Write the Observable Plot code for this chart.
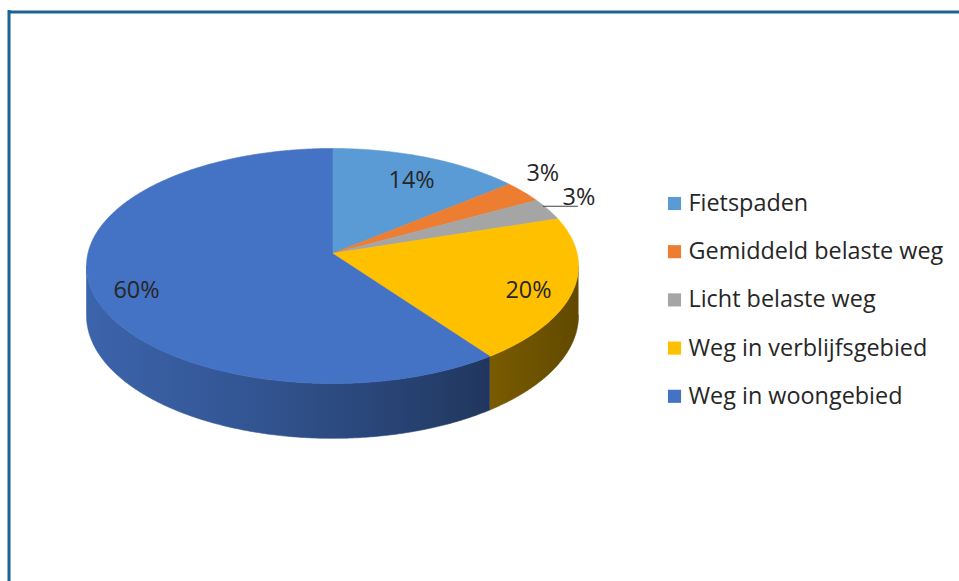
<!DOCTYPE html>
<html><head><meta charset="utf-8">
<script src="https://cdn.jsdelivr.net/npm/d3@7"></script>
<script src="https://cdn.jsdelivr.net/npm/@observablehq/plot@0.6"></script>
<style>html,body{margin:0;padding:0;background:#fff;overflow:hidden}</style>
</head><body><div id="chart"></div>
<script>
// ---- data ----
const categories = ["Fietspaden","Gemiddeld belaste weg","Licht belaste weg","Weg in verblijfsgebied","Weg in woongebied"];
const shares = [14, 3, 3, 20, 60];
const labelTexts = ["14%","3%","3%","20%","60%"];
const labelPlacement = ["inside","outside","leader","inside","inside"];
// ---- style ----
const palette = ["#5B9BD5","#ED7D31","#A5A5A5","#FFC000","#4472C4"];
const FONT = "'Open Sans', Lato, sans-serif";
const TEXT = "#262626";
const FS = 23.4;

// ---- layout (perspective projection of a tilted disc) ----
const W = 959, H = 581;
const CX = 332, CY = 253, RX = 244.6, B = 89.26, K = -0.1064, DEPTH = 49;
function proj(theta, r = 1, drop = 0) {
  const X = r * Math.sin(theta), Z = -r * Math.cos(theta);
  const w = 1 + K * Z;
  return [CX + RX * X / w, (CY + B * Z + drop) / w];
}
const arcs = d3.pie().sort(null).startAngle(0).endAngle(2 * Math.PI)(shares);
const STEP = Math.PI / 360;
function arcPts(a0, a1, drop) {
  const n = Math.max(2, Math.ceil(Math.abs(a1 - a0) / STEP));
  return d3.range(n + 1).map(k => proj(a0 + (a1 - a0) * k / n, 1, drop));
}
// top faces
const topRows = [];
arcs.forEach((a, i) => {
  const pts = [proj(0, 0), ...arcPts(a.startAngle, a.endAngle, 0), proj(0, 0)];
  pts.forEach(([x, y]) => topRows.push({name: categories[i], x, y}));
});
// visible side walls
const thR = Math.acos(K), thL = 2 * Math.PI - thR;
const sides = [];
arcs.forEach((a, i) => {
  const s = Math.max(a.startAngle, thR), e = Math.min(a.endAngle, thL);
  if (s < e) {
    const pts = [...arcPts(s, e, 0), ...arcPts(e, s, DEPTH)];
    sides.push({i, rows: pts.map(([x, y]) => ({name: categories[i], x, y}))});
  }
});
// labels
const labelRows = [], leaderRows = [];
arcs.forEach((a, i) => {
  const mid = (a.startAngle + a.endAngle) / 2;
  const p = labelPlacement[i];
  if (p === "inside") {
    const [x, y] = proj(mid, 0.82);
    labelRows.push({x, y: y + 7, text: labelTexts[i], anchor: "middle"});
  } else if (p === "outside") {
    const [x, y] = proj(mid, 1.12);
    labelRows.push({x: x - 2, y: y - 11, text: labelTexts[i], anchor: "middle"});
  } else {
    const [x, y] = proj(mid, 1);
    const y0 = y - 3;
    leaderRows.push({x1: x - 5, y1: y0, x2: x + 30, y2: y0});
    labelRows.push({x: x + 31, y: y0 - 9, text: labelTexts[i], anchor: "start"});
  }
});
// legend
const legendRows = categories.map((c, i) => ({name: c, x: 674, y: 203 + i * 48.2}));

const plot = Plot.plot({
  width: W, height: H, margin: 0,
  x: {domain: [0, W], range: [0, W], axis: null},
  y: {domain: [0, H], range: [0, H], axis: null},
  color: {domain: categories, range: palette},
  style: {fontFamily: FONT, background: "white"},
  marks: [
    Plot.ruleY([11.5], {x1: 8.5, x2: W + 5, stroke: "#1b6492", strokeWidth: 3}),
    Plot.ruleX([8.5], {y1: 10, y2: H + 5, stroke: "#1b6492", strokeWidth: 3}),
    ...sides.map(s => Plot.line(s.rows, {x: "x", y: "y", fill: `url(#side-${s.i})`, stroke: `url(#side-${s.i})`, strokeWidth: 0.6, curve: "linear"})),
    Plot.line(topRows, {x: "x", y: "y", z: "name", fill: "name", stroke: "name", strokeWidth: 0.6, curve: "linear"}),
    Plot.link(leaderRows, {x1: "x1", y1: "y1", x2: "x2", y2: "y2", stroke: "#404040", strokeWidth: 1.2}),
    Plot.text(labelRows, {x: "x", y: "y", text: "text", textAnchor: d => d.anchor, fontSize: FS, fill: TEXT}),
    Plot.dot(legendRows, {x: "x", y: "y", fill: "name", symbol: "square", r: 7.4, stroke: null}),
    Plot.text(legendRows, {x: d => d.x + 14, y: "y", text: "name", textAnchor: "start", fontSize: FS, fill: TEXT})
  ]
});

// gradients for the side walls
const svg = d3.select(plot);
const defs = svg.insert("defs", ":first-child");
const xL = CX - RX / Math.sqrt(1 - K * K), xR = CX + RX / Math.sqrt(1 - K * K);
const stops = [[0, 0.88], [0.35, 0.74], [0.65, 0.58], [0.85, 0.46], [1, 0.38]];
sides.forEach(s => {
  const g = defs.append("linearGradient").attr("id", `side-${s.i}`)
    .attr("gradientUnits", "userSpaceOnUse").attr("x1", xL).attr("x2", xR).attr("y1", 0).attr("y2", 0);
  const c = d3.rgb(palette[s.i]);
  stops.forEach(([o, f]) => g.append("stop").attr("offset", o)
    .attr("stop-color", d3.rgb(c.r * f, c.g * f, c.b * f).formatHex()));
});
document.getElementById("chart").appendChild(plot);
</script>
</body></html>
